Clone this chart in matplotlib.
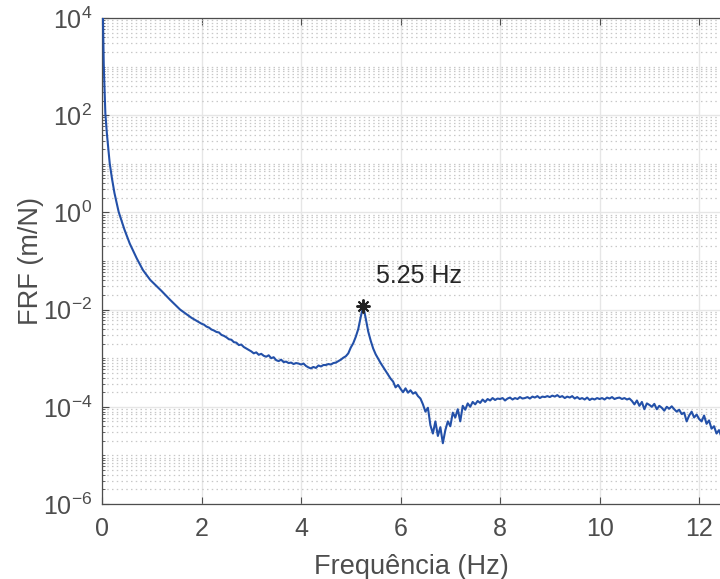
import numpy as np
import matplotlib
matplotlib.use("Agg")
import matplotlib.pyplot as plt
from matplotlib.ticker import LogLocator, FixedLocator, NullFormatter, LogFormatterMathtext

plt.rcParams["font.family"] = ["Liberation Sans", "DejaVu Sans"]
plt.rcParams["mathtext.fontset"] = "custom"
plt.rcParams["mathtext.rm"] = "Liberation Sans"
plt.rcParams["mathtext.it"] = "Liberation Sans:italic"

# low-frequency decay (log10 of FRF)
freq_low = [0.005, 0.02, 0.035, 0.05, 0.067, 0.10, 0.155, 0.20, 0.25, 0.335,
            0.45, 0.557, 0.70, 0.825, 0.97, 1.20, 1.37, 1.57, 1.80, 1.95]
frf_low_log10 = [4.6, 4.0, 3.05, 2.55, 2.04, 1.60, 1.01, 0.70, 0.40, 0.01,
                 -0.35, -0.64, -0.95, -1.19, -1.39, -1.62, -1.80, -2.00, -2.17, -2.26]

# 2.00 .. 12.50 Hz, 0.05 Hz step, one row = 0.5 Hz
freq_step = 0.05
frf_high_log10 = [
    -2.29, -2.31, -2.35, -2.37, -2.41, -2.43, -2.46, -2.47, -2.52, -2.54,   # 2.0
    -2.57, -2.61, -2.62, -2.67, -2.68, -2.73, -2.72, -2.77, -2.80, -2.83,   # 2.5
    -2.86, -2.90, -2.88, -2.93, -2.91, -2.95, -2.97, -2.94, -3.00, -2.98,   # 3.0
    -3.04, -3.06, -3.03, -3.08, -3.07, -3.10, -3.09, -3.12, -3.10, -3.11,   # 3.5
    -3.13, -3.11, -3.16, -3.19, -3.21, -3.18, -3.20, -3.15, -3.17, -3.14,   # 4.0
    -3.14, -3.12, -3.13, -3.10, -3.09, -3.06, -3.03, -2.99, -2.96, -2.90,   # 4.5
    -2.78, -2.69, -2.56, -2.40, -2.15, -1.93, -2.18, -2.45, -2.64, -2.80,   # 5.0
    -2.92, -3.01, -3.10, -3.18, -3.26, -3.34, -3.42, -3.48, -3.60, -3.55,   # 5.5
    -3.63, -3.70, -3.62, -3.71, -3.66, -3.73, -3.70, -3.78, -3.83, -3.95,   # 6.0
    -4.10, -4.02, -4.38, -4.55, -4.30, -4.60, -4.42, -4.75, -4.48, -4.30,   # 6.5
    -4.40, -4.12, -4.22, -4.05, -4.30, -3.98, -4.06, -3.93, -4.00, -3.90,   # 7.0
    -3.95, -3.88, -3.92, -3.85, -3.90, -3.84, -3.87, -3.82, -3.86, -3.83,   # 7.5
    -3.84, -3.82, -3.87, -3.83, -3.81, -3.85, -3.82, -3.84, -3.80, -3.83,   # 8.0
    -3.82, -3.80, -3.83, -3.79, -3.81, -3.78, -3.82, -3.79, -3.80, -3.78,   # 8.5
    -3.80, -3.77, -3.79, -3.76, -3.80, -3.78, -3.82, -3.79, -3.81, -3.78,   # 9.0
    -3.83, -3.80, -3.84, -3.82, -3.85, -3.81, -3.86, -3.83, -3.85, -3.82,   # 9.5
    -3.84, -3.82, -3.85, -3.81, -3.83, -3.80, -3.84, -3.82, -3.81, -3.84,   # 10.0
    -3.82, -3.85, -3.83, -3.88, -3.95, -3.87, -3.98, -3.90, -4.05, -3.93,   # 10.5
    -3.96, -4.00, -3.94, -4.05, -3.98, -4.02, -4.08, -4.00, -4.04, -3.99,   # 11.0
    -4.05, -4.10, -4.06, -4.15, -4.12, -4.30, -4.18, -4.10, -4.22, -4.16,   # 11.5
    -4.25, -4.30, -4.18, -4.35, -4.28, -4.45, -4.40, -4.55, -4.48, -4.62,   # 12.0
    -4.58,                                                                  # 12.5
]

peak_freq = 5.25
peak_frf = 10 ** -1.93
peak_label = "5.25 Hz"

freq_high = 2.0 + freq_step * np.arange(len(frf_high_log10))
freq = np.concatenate([freq_low, freq_high])
frf = 10 ** np.concatenate([frf_low_log10, frf_high_log10])

text_col = "#4d4d4d"
line_col = "#2350a8"

fig = plt.figure(figsize=(7.2, 5.79), dpi=100)
ax = fig.add_axes([102 / 720, 75 / 579, 1 - 102 / 720, 486 / 579])

ax.semilogy(freq, frf, color=line_col, lw=1.5, zorder=3)
# MATLAB-like asterisk marker at the resonance
ax.plot([peak_freq], [peak_frf], marker=(8, 2, 0), color="#222222", ms=10,
        mew=1.4, ls="none", zorder=4)
ax.text(peak_freq + 0.25, 10 ** -1.31, peak_label, fontsize=18,
        color="#262626", va="center", ha="left")

ax.set_xlim(0, 12.42)
ax.set_ylim(1e-6, 1e4)

ax.xaxis.set_major_locator(FixedLocator([0, 2, 4, 6, 8, 10, 12]))
ax.yaxis.set_major_locator(FixedLocator([1e-6, 1e-4, 1e-2, 1e0, 1e2, 1e4]))
ax.yaxis.set_major_formatter(LogFormatterMathtext())
ax.yaxis.set_minor_locator(LogLocator(base=10, subs=np.arange(1, 10), numticks=30))
ax.yaxis.set_minor_formatter(NullFormatter())

ax.grid(True, which="major", color="#e6e6e6", lw=1.0, zorder=0)
ax.grid(True, which="minor", axis="y", color="#c8c8c8", lw=0.9,
        dashes=(1.2, 2.6), zorder=0)

ax.tick_params(which="both", direction="in", top=True, right=False,
               colors=text_col, labelsize=18, pad=7)
ax.tick_params(which="major", length=5, width=0.8)
ax.tick_params(which="minor", length=2.5, width=0.6)
ax.tick_params(axis="x", pad=9)

for side in ["left", "bottom", "top"]:
    ax.spines[side].set_color(text_col)
    ax.spines[side].set_linewidth(0.9)
ax.spines["right"].set_visible(False)

ax.set_xlabel("Frequência (Hz)", fontsize=19.5, color=text_col, labelpad=10)
ax.set_ylabel("FRF (m/N)", fontsize=19.5, color=text_col, labelpad=-1)

fig.savefig("out.png", dpi=100)
